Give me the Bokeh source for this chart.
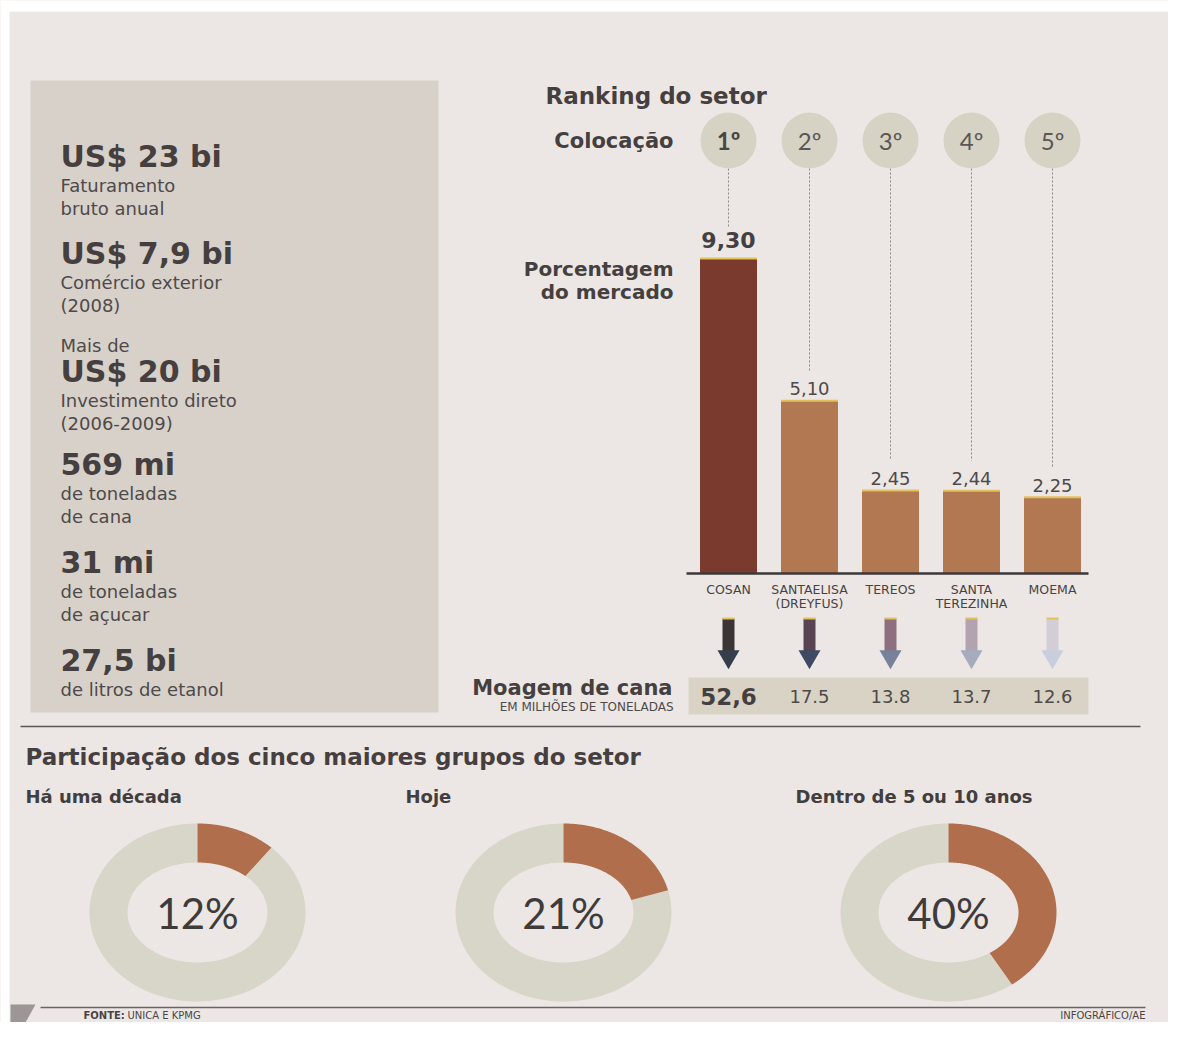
import numpy as np
from bokeh.plotting import figure
from bokeh.models import Range1d
from bokeh.core.properties import value
from bokeh.embed import file_html
from bokeh.resources import INLINE

# ---------------- data ----------------
ranks = ["1º", "2º", "3º", "4º", "5º"]
company_line1 = ["COSAN", "SANTAELISA", "TEREOS", "SANTA", "MOEMA"]
company_line2 = ["", "(DREYFUS)", "", "TEREZINHA", ""]
market_share = [9.30, 5.10, 2.45, 2.44, 2.25]
share_labels = ["9,30", "5,10", "2,45", "2,44", "2,25"]
crushing = [52.6, 17.5, 13.8, 13.7, 12.6]
crushing_labels = ["52,6", "17.5", "13.8", "13.7", "12.6"]

donut_titles = ["Há uma década", "Hoje", "Dentro de 5 ou 10 anos"]
donut_share = [12, 21, 40]

stat_big = ["US$ 23 bi", "US$ 7,9 bi", "US$ 20 bi", "569 mi", "31 mi", "27,5 bi"]
stat_pre = ["", "", "Mais de", "", "", ""]
stat_desc = [["Faturamento", "bruto anual"],
             ["Comércio exterior", "(2008)"],
             ["Investimento direto", "(2006-2009)"],
             ["de toneladas", "de cana"],
             ["de toneladas", "de açucar"],
             ["de litros de etanol"]]

# ---------------- layout constants ----------------
W, H = 1168, 1022
X_MIN, X_MAX = 0, W
Y_MIN, Y_MAX = 0, H
BG = "#ece7e5"
DARK = "#463f3f"
TXT = "#4e4a4a"
FONT = value("DejaVu Sans")

BASE_Y = 573          # baseline of bars
TOP_MAX_Y = 258       # top of largest bar
SCALE = (BASE_Y - TOP_MAX_Y) / max(market_share)
X0, DX = 728, 81      # first column centre, column spacing

p = figure(width=W, height=H, x_range=Range1d(X_MIN, X_MAX), y_range=Range1d(Y_MAX, Y_MIN),
           output_backend="svg", toolbar_location=None, min_border=0,
           x_axis_type=None, y_axis_type=None,
           background_fill_color=BG, border_fill_color=BG, outline_line_color=None)
p.grid.visible = False
p.extra_y_ranges = {"pct": Range1d(start=(BASE_Y - Y_MAX) / SCALE, end=(BASE_Y - Y_MIN) / SCALE)}
p.extra_x_ranges = {"rank": Range1d(start=(X_MIN - X0) / DX, end=(X_MAX - X0) / DX)}

idx = list(range(len(ranks)))

# paper edges
p.quad(left=X_MIN, right=X_MAX, top=Y_MIN, bottom=11, fill_color="white", line_color=None)
p.quad(left=X_MIN, right=9, top=Y_MIN, bottom=Y_MAX, fill_color="white", line_color=None)

# ---------------- left panel ----------------
p.quad(left=30, right=438, top=80, bottom=712, fill_color="#d7d1ca", line_color=None)
y_big = [156, 253, 371, 464, 562, 660]
for k in range(len(stat_big)):
    yb = y_big[k]
    if stat_pre[k]:
        p.text(x=[60], y=[yb - 26], text=[stat_pre[k]], text_font=FONT, text_font_size="18px",
               text_color=TXT, text_baseline="middle", text_align="left")
    p.text(x=[60], y=[yb], text=[stat_big[k]], text_font=FONT, text_font_size="30px",
           text_font_style="bold", text_color=DARK, text_baseline="middle", text_align="left")
    ys = [yb + 29 + 23 * j for j in range(len(stat_desc[k]))]
    p.text(x=[60] * len(ys), y=ys, text=stat_desc[k], text_font=FONT, text_font_size="18px",
           text_color=TXT, text_baseline="middle", text_align="left")

# ---------------- ranking ----------------
p.text(x=[545], y=[95], text=["Ranking do setor"], text_font=FONT, text_font_size="23px",
       text_font_style="bold", text_color=DARK, text_baseline="middle", text_align="left")
p.text(x=[673], y=[140], text=["Colocação"], text_font=FONT, text_font_size="21px",
       text_font_style="bold", text_color=DARK, text_baseline="middle", text_align="right")
p.text(x=[673, 673], y=[268, 291], text=["Porcentagem", "do mercado"], text_font=FONT,
       text_font_size="20px", text_font_style="bold", text_color=DARK,
       text_baseline="middle", text_align="right")

# leader lines from circles to value labels
leader_end = [BASE_Y - v * SCALE - 30 for v in market_share]
p.segment(x0=idx, y0=[168] * 5, x1=idx, y1=leader_end, x_range_name="rank",
          line_color="#8c8686", line_width=1, line_dash="2 2")

# rank circles
p.scatter(x=idx, y=[140] * 5, x_range_name="rank", marker="circle", size=56,
          fill_color="#d6d2c4", line_color=None)
p.text(x=idx[:1], y=[140], text=ranks[:1], x_range_name="rank", text_font=value("Lato"),
       text_font_size="24px", text_font_style="bold", text_color="#4a4545",
       text_align="center", text_baseline="middle")
p.text(x=idx[1:], y=[140] * 4, text=ranks[1:], x_range_name="rank", text_font=value("Lato"),
       text_font_size="24px", text_color="#5a5656", text_align="center", text_baseline="middle")

# bars
bar_colors = ["#7b3a2e"] + ["#b27852"] * 4
p.vbar(x=idx, top=market_share, bottom=0, width=57 / DX, fill_color=bar_colors, line_color=None,
       x_range_name="rank", y_range_name="pct")
p.segment(x0=[i - 28.5 / DX for i in idx], x1=[i + 28.5 / DX for i in idx], y0=market_share,
          y1=market_share, x_range_name="rank", y_range_name="pct", line_color="#e2c25c", line_width=2)
p.segment(x0=[686], x1=[1088], y0=[BASE_Y], y1=[BASE_Y], line_color="#3d3838", line_width=2.5)

# value labels
p.text(x=idx[:1], y=[market_share[0] + 19 / SCALE], text=share_labels[:1], x_range_name="rank",
       y_range_name="pct", text_font=FONT, text_font_size="22px", text_font_style="bold",
       text_color=DARK, text_align="center", text_baseline="middle")
p.text(x=idx[1:], y=[v + 12 / SCALE for v in market_share[1:]], text=share_labels[1:],
       x_range_name="rank", y_range_name="pct", text_font=FONT, text_font_size="18px",
       text_color=TXT, text_align="center", text_baseline="middle")

# company names
p.text(x=idx, y=[589] * 5, text=company_line1, x_range_name="rank", text_font=FONT,
       text_font_size="12.5px", text_color="#474343", text_align="center", text_baseline="middle")
p.text(x=idx, y=[603] * 5, text=company_line2, x_range_name="rank", text_font=FONT,
       text_font_size="12.5px", text_color="#474343", text_align="center", text_baseline="middle")

# arrows
shaft_colors = ["#3c3535", "#584452", "#8e6f7f", "#b3a3ae", "#d3cdd5"]
head_colors = ["#363e4c", "#3e4a63", "#78819b", "#a6acbd", "#c8cedb"]
p.quad(left=[i - 6 / DX for i in idx], right=[i + 6 / DX for i in idx], top=[618] * 5,
       bottom=[652] * 5, x_range_name="rank", fill_color=shaft_colors, line_color=None)
p.segment(x0=[i - 6 / DX for i in idx], x1=[i + 6 / DX for i in idx], y0=[618] * 5, y1=[618] * 5,
          x_range_name="rank", line_color="#e2c25c", line_width=2)
p.scatter(x=idx, y=[656] * 5, x_range_name="rank", marker="inverted_triangle", size=22,
          fill_color=head_colors, line_color=None)

# crushing band
p.quad(left=688, right=1088, top=677, bottom=714, fill_color="#d8d3c5", line_color=None)
p.text(x=idx[:1], y=[696], text=crushing_labels[:1], x_range_name="rank", text_font=FONT,
       text_font_size="23px", text_font_style="bold", text_color=DARK, text_align="center",
       text_baseline="middle")
p.text(x=idx[1:], y=[696] * 4, text=crushing_labels[1:], x_range_name="rank", text_font=FONT,
       text_font_size="18px", text_color=TXT, text_align="center", text_baseline="middle")
p.text(x=[672], y=[687], text=["Moagem de cana"], text_font=FONT, text_font_size="21px",
       text_font_style="bold", text_color=DARK, text_align="right", text_baseline="middle")
p.text(x=[673], y=[706], text=["EM MILHÕES DE TONELADAS"], text_font=FONT, text_font_size="12px",
       text_color=TXT, text_align="right", text_baseline="middle")

# ---------------- separator ----------------
p.segment(x0=[20], x1=[1140], y0=[726], y1=[726], line_color="#5a5454", line_width=1.5)

# ---------------- donuts ----------------
p.text(x=[25], y=[756], text=["Participação dos cinco maiores grupos do setor"], text_font=FONT,
       text_font_size="23px", text_font_style="bold", text_color=DARK, text_align="left",
       text_baseline="middle")
title_x = [25, 405, 795]
p.text(x=title_x, y=[796] * 3, text=donut_titles, text_font=FONT, text_font_size="18px",
       text_font_style="bold", text_color="#433e3e", text_align="left", text_baseline="middle")

centers_x = [197, 563, 948]
CY = 912
RX_O, RY_O, RX_I, RY_I = 108, 89, 70, 50


def ring(cx, a0, a1, n=160):
    t = np.linspace(a0, a1, n)
    xo = cx + RX_O * np.sin(t)
    yo = CY - RY_O * np.cos(t)
    xi = cx + RX_I * np.sin(t[::-1])
    yi = CY - RY_I * np.cos(t[::-1])
    return list(np.concatenate([xo, xi])), list(np.concatenate([yo, yi]))


gx, gy, bx, by = [], [], [], []
for cx, s in zip(centers_x, donut_share):
    f = s / 100 * 2 * np.pi
    x, y = ring(cx, f, 2 * np.pi)
    gx.append(x); gy.append(y)
    x, y = ring(cx, 0, f)
    bx.append(x); by.append(y)
p.patches(xs=gx, ys=gy, fill_color="#d8d5c9", line_color=None)
p.patches(xs=bx, ys=by, fill_color="#b06e4c", line_color=None)
p.text(x=centers_x, y=[CY] * 3, text=[f"{s}%" for s in donut_share], text_font=value("Lato"),
       text_font_size="42px", text_color="#3f3b3b", text_align="center", text_baseline="middle")

# ---------------- footer ----------------
p.patch(x=[10, 35, 25, 10], y=[1004, 1004, 1022, 1022], fill_color="#9c9696", line_color=None)
p.segment(x0=[40], x1=[1145], y0=[1007], y1=[1007], line_color="#6a6464", line_width=1.5)
p.text(x=[83], y=[1015], text=["FONTE:"], text_font=FONT, text_font_size="10px",
       text_font_style="bold", text_color="#4a4545", text_align="left", text_baseline="middle")
p.text(x=[127], y=[1015], text=["UNICA E KPMG"], text_font=FONT, text_font_size="10px",
       text_color="#4a4545", text_align="left", text_baseline="middle")
p.text(x=[1145], y=[1015], text=["INFOGRÁFICO/AE"], text_font=FONT, text_font_size="10px",
       text_color="#4a4545", text_align="right", text_baseline="middle")

open("out.html", "w").write(file_html(p, INLINE))
